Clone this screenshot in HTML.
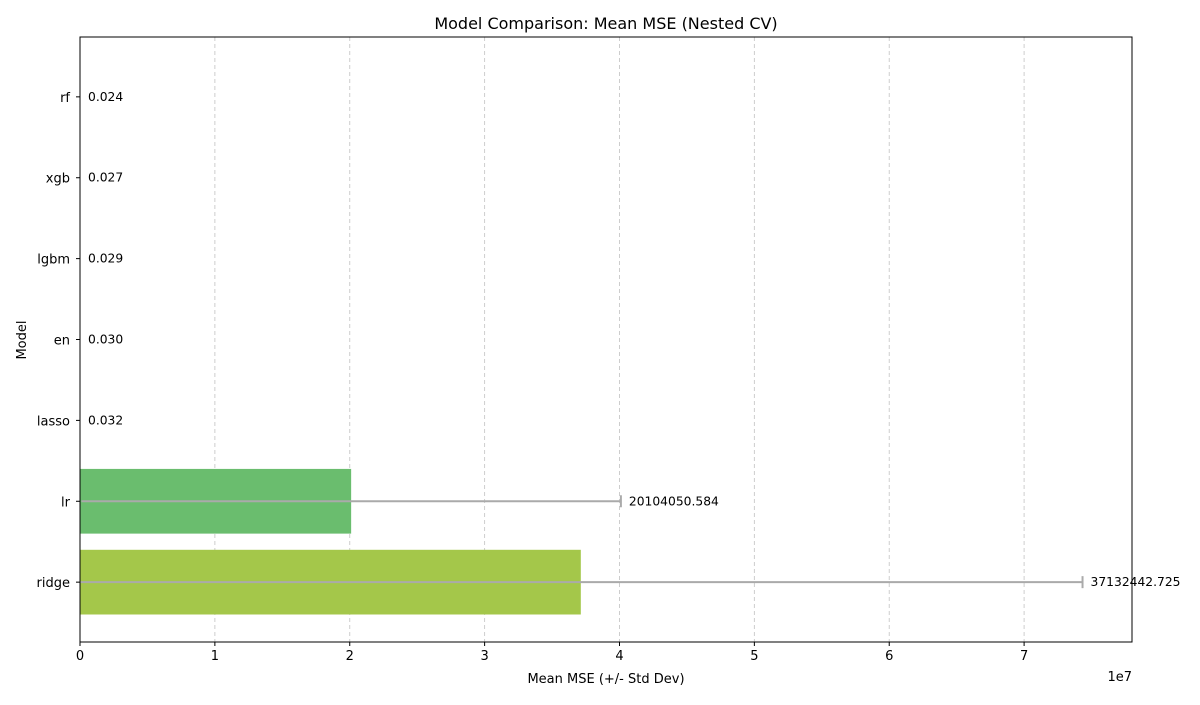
<!DOCTYPE html>
<html><head><meta charset="utf-8"><style>
body{margin:0;background:#fff;}
svg text{font-family:"DejaVu Sans","Liberation Sans",sans-serif;}
</style></head><body>
<svg id="chart" width="1200" height="700" xmlns="http://www.w3.org/2000/svg"></svg>
<script>
const categories=["ridge","lr","lasso","en","lgbm","xgb","rf"];
const means=[37132442.725,20104050.584,0.032,0.030,0.029,0.027,0.024];
const stds=[37200000,20000000,0.01,0.01,0.01,0.01,0.01];
const labels=["37132442.725","20104050.584","0.032","0.030","0.029","0.027","0.024"];
const colors=["#a4c74a","#6abd6e","#3fab7a","#2a9a84","#26858c","#2d708e","#35608d"];
const xTicks=[0,1,2,3,4,5,6,7];
const L=80,R=1132,T=37,B=642,xMax=7.8e7,yMin=-0.74,yMax=6.74;
const sx=v=>L+v/xMax*(R-L);
const sy=i=>B-(i-yMin)/(yMax-yMin)*(B-T);
const svg=document.getElementById('chart');
const NS="http://www.w3.org/2000/svg";
function mk(t,a,txt){const e=document.createElementNS(NS,t);for(const k in a)e.setAttribute(k,a[k]);if(txt!==undefined)e.textContent=txt;svg.appendChild(e);return e;}
xTicks.forEach(t=>{
 const g=mk('line',{x1:sx(t*1e7),x2:sx(t*1e7),y1:T,y2:B,stroke:'#c8c8c8','stroke-dasharray':'4,3','stroke-width':0.9});
 
 
 const tk=mk('line',{x1:sx(t*1e7),x2:sx(t*1e7),y1:B,y2:B+4,stroke:'#000'});
 
 
 const tl=mk('text',{x:sx(t*1e7),y:B+18,'text-anchor':'middle','font-size':13},String(t));
 
 
});
categories.forEach((c,i)=>{
 const y=sy(i),h=0.8*(sy(0)-sy(1));
 const r=mk('rect',{x:L,y:y-h/2,width:Math.max(0,sx(means[i])-L),height:h,fill:colors[i]});
 
 
 const e=sx(means[i]+stds[i]),s=Math.max(L,sx(means[i]-stds[i]));
 if(means[i]>1){
  const el=mk('line',{x1:s,x2:e,y1:y,y2:y,stroke:'#aaa','stroke-width':2});
  
  
  const cp=mk('line',{x1:e,x2:e,y1:y-6,y2:y+6,stroke:'#aaa','stroke-width':2});
  
  
 }
 const lx=means[i]>1?e+8:L+8;
 const vl=mk('text',{x:lx,y:y+4,'font-size':12.3},labels[i]);
 
 
 const tk=mk('line',{x1:L-4,x2:L,y1:y,y2:y,stroke:'#000'});
 
 
 const yl=mk('text',{x:L-10,y:y+5,'text-anchor':'end','font-size':13},c);
 
 
});
const fr=mk('rect',{x:L,y:T,width:R-L,height:B-T,fill:'none',stroke:'#000','stroke-width':1});


const ti=mk('text',{x:(L+R)/2,y:29,'text-anchor':'middle','font-size':16},'Model Comparison: Mean MSE (Nested CV)');


const xt=mk('text',{x:(L+R)/2,y:683,'text-anchor':'middle','font-size':13},'Mean MSE (+/- Std Dev)');


const ex=mk('text',{x:1132,y:681,'text-anchor':'end','font-size':13},'1e7');


const yt=mk('text',{x:26,y:340,'text-anchor':'middle','font-size':13,transform:'rotate(-90 26 340)'},'Model');


</script>
</body></html>
